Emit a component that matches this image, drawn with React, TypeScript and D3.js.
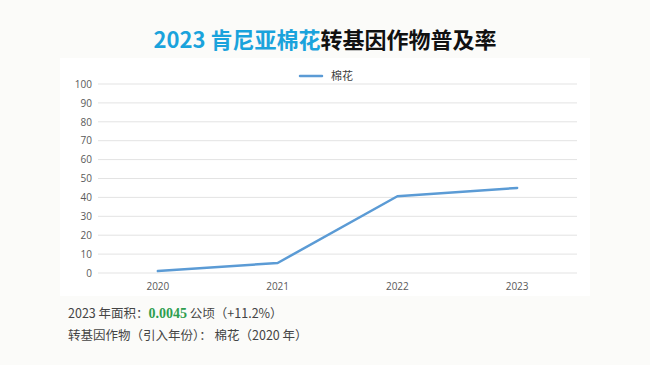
import React, { useEffect, useRef } from 'react';
import * as d3 from 'd3';

const WIDTH = 650;
const HEIGHT = 365;
const MARGIN = { top: 84, right: 73, bottom: 92, left: 98 };
const GRAPH_WIDTH = WIDTH - MARGIN.left - MARGIN.right;
const GRAPH_HEIGHT = HEIGHT - MARGIN.top - MARGIN.bottom;

const years = ['2020', '2021', '2022', '2023'];
const cotton = [1, 5.3, 40.6, 45];
const yTicks = [0, 10, 20, 30, 40, 50, 60, 70, 80, 90, 100];
const seriesName = '棉花';

const App = () => {
  const gRef = useRef<SVGGElement>(null);

  useEffect(() => {
    const graph = d3.select(gRef.current);
    graph.selectAll('*').remove();

    const xScale = d3.scaleBand().domain(years).range([0, GRAPH_WIDTH]);
    const yScale = d3.scaleLinear().domain([0, 100]).range([GRAPH_HEIGHT, 0]);

    graph.append('g')
      .selectAll('line')
      .data(yTicks)
      .enter().append('line')
      .attr('x1', 0)
      .attr('x2', GRAPH_WIDTH)
      .attr('y1', (d) => yScale(d))
      .attr('y2', (d) => yScale(d))
      .attr('stroke', '#e3e3e3')
      .attr('stroke-width', 1);

    const yAxis = graph.append('g')
      .call(d3.axisLeft(yScale).tickValues(yTicks).tickSize(0).tickPadding(6));
    yAxis.select('.domain').remove();
    yAxis.selectAll('text')
      .attr('fill', '#595959')
      .style('font-size', '10px')
      .style('font-family', '"Open Sans", "Noto Sans", sans-serif');

    const xAxis = graph.append('g')
      .attr('transform', `translate(0, ${GRAPH_HEIGHT})`)
      .call(d3.axisBottom(xScale).tickSize(0).tickPadding(10));
    xAxis.select('.domain').remove();
    xAxis.selectAll('text')
      .attr('fill', '#595959')
      .style('font-size', '10px')
      .style('font-family', '"Open Sans", "Noto Sans", sans-serif');

    const line = d3.line<number>()
      .x((_, i) => (xScale(years[i]) as number) + xScale.bandwidth() / 2)
      .y((d) => yScale(d));

    graph.append('path')
      .datum(cotton)
      .attr('d', line)
      .attr('fill', 'none')
      .attr('stroke', '#5b9bd5')
      .attr('stroke-width', 2.5)
      .attr('stroke-linejoin', 'round')
      .attr('stroke-linecap', 'round');
  }, []);

  return (
    <svg
      width={WIDTH}
      height={HEIGHT}
      style={{ position: 'absolute', left: 0, top: 0, background: '#fbfbf9' }}
      xmlns="http://www.w3.org/2000/svg">
      <rect x={60} y={58} width={530} height={238} fill="#ffffff" />
      <text
        x={325}
        y={48}
        textAnchor="middle"
        style={{ fontSize: '22px', fontWeight: 'bold', fontFamily: '"Noto Sans CJK SC", sans-serif' }}>
        <tspan fill="#1aa3dc">2023 肯尼亚棉花</tspan>
        <tspan fill="#111111">转基因作物普及率</tspan>
      </text>
      <g transform="translate(300, 76)">
        <line x1={0} x2={22} y1={0} y2={0} stroke="#5b9bd5" strokeWidth={2.5} strokeLinecap="round" />
        <text x={31} y={4} fill="#404040" style={{ fontSize: '11px', fontFamily: '"Noto Sans CJK SC", sans-serif' }}>
          {seriesName}
        </text>
      </g>
      <g ref={gRef} transform={`translate(${MARGIN.left}, ${MARGIN.top})`}></g>
      <text x={68} y={318} fill="#444444" style={{ fontSize: '12.5px', fontFamily: '"Noto Sans CJK SC", sans-serif' }}>
        2023 年面积：
        <tspan fill="#2e9e4f" fontWeight="bold" style={{ fontFamily: '"Liberation Serif", serif', fontSize: '14px' }}>0.0045</tspan>
        <tspan> 公顷（+11.2%）</tspan>
      </text>
      <text x={68} y={340} fill="#444444" style={{ fontSize: '12.5px', fontFamily: '"Noto Sans CJK SC", sans-serif' }}>
        转基因作物（引入年份）： 棉花（2020 年）
      </text>
    </svg>
  );
};

export default App;
